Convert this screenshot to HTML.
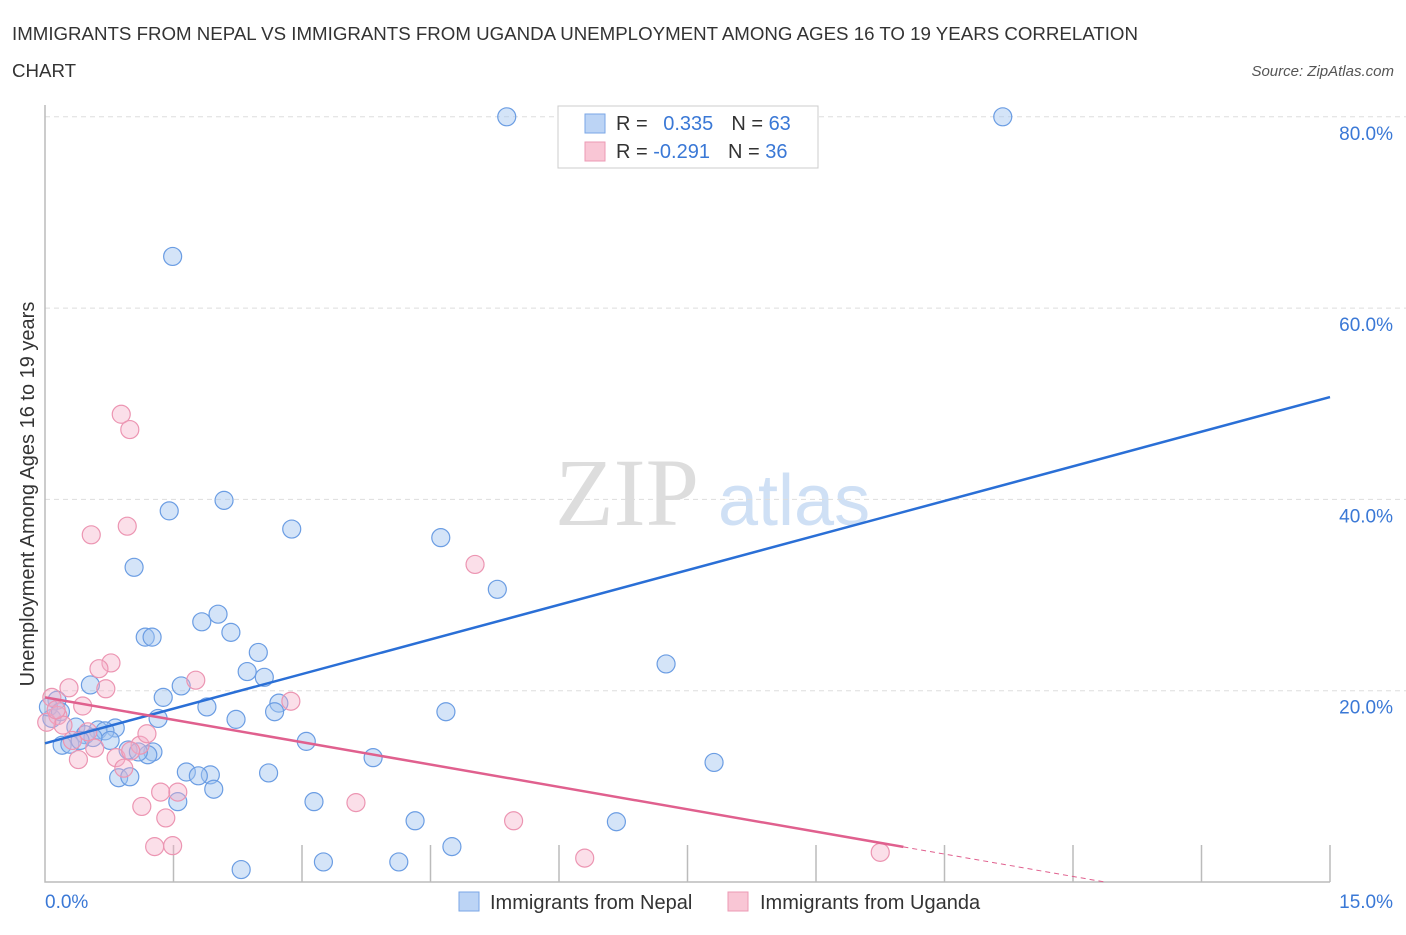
<!DOCTYPE html>
<html><head><meta charset="utf-8"><style>
body{margin:0;background:#fff;font-family:"Liberation Sans",sans-serif}
</style></head><body>
<svg width="1406" height="930" xmlns="http://www.w3.org/2000/svg" font-family="Liberation Sans, sans-serif">
<text x="12" y="40" font-size="18.7" fill="#333">IMMIGRANTS FROM NEPAL VS IMMIGRANTS FROM UGANDA UNEMPLOYMENT AMONG AGES 16 TO 19 YEARS CORRELATION</text>
<text x="12" y="77" font-size="18.7" fill="#333">CHART</text>
<text x="1394" y="76" font-size="15" fill="#555" text-anchor="end" font-style="italic">Source: ZipAtlas.com</text>
<g>
<text x="555" y="525" font-size="96" font-family="Liberation Serif, serif" fill="#ddd">ZIP</text>
<text x="718" y="525" font-size="72" fill="#cfe0f5">atlas</text>
</g>
<g id="grid"></g>
<g id="axes"></g>
<g id="marks"></g>
<g>
<rect x="558" y="106" width="260" height="62" fill="#fff" stroke="#ccc"/>
<rect x="585" y="114" width="20" height="19" fill="#bcd4f5" stroke="#7aa6e6"/>
<rect x="585" y="142" width="20" height="19" fill="#f9c6d5" stroke="#ec9ab4"/>
<text x="616" y="130" font-size="20" fill="#333">R = <tspan fill="#3a78d6" dx="10">0.335</tspan><tspan dx="18" fill="#333">N = </tspan><tspan fill="#3a78d6">63</tspan></text>
<text x="616" y="158" font-size="20" fill="#333">R = <tspan fill="#3a78d6">-0.291</tspan><tspan dx="18" fill="#333">N = </tspan><tspan fill="#3a78d6">36</tspan></text>
</g>
<g>
<rect x="459" y="892" width="20" height="19" fill="#bcd4f5" stroke="#7aa6e6"/>
<text x="490" y="909" font-size="20" fill="#333">Immigrants from Nepal</text>
<rect x="728" y="892" width="20" height="19" fill="#f9c6d5" stroke="#ec9ab4"/>
<text x="760" y="909" font-size="20" fill="#333">Immigrants from Uganda</text>
</g>
</svg>
<script>
const nepalX=[5.39,11.18,1.49,1.45,2.09,2.88,1.04,4.62,5.28,2.02,1.83,2.17,1.17,1.25,2.49,2.36,2.56,7.25,0.53,1.59,1.38,1.89,2.73,2.68,1.32,2.23,4.68,0.14,0.08,0.36,0.62,0.82,0.70,0.47,0.20,0.29,0.76,0.97,1.26,1.20,1.09,3.05,3.83,7.81,1.65,1.93,1.79,1.97,2.61,0.86,0.99,1.55,3.14,4.32,6.67,4.75,3.25,4.13,2.29,0.04,0.18,0.56,0.41];
const nepalY=[80.0,80.0,65.4,38.8,39.9,36.9,32.9,36.0,30.6,28.0,27.2,26.1,25.6,25.6,24.0,22.0,21.4,22.8,20.6,20.5,19.3,18.3,18.7,17.8,17.1,17.0,17.8,19.0,17.1,16.2,15.9,16.1,15.8,15.4,14.3,14.4,14.8,13.8,13.6,13.3,13.6,14.7,13.0,12.5,11.5,11.2,11.1,9.7,11.4,10.9,11.0,8.4,8.4,6.4,6.3,3.7,2.1,2.1,1.3,18.3,17.8,15.1,14.8];
const ugandaX=[0.89,0.99,0.54,0.96,5.02,0.77,0.63,0.28,0.71,1.76,2.87,0.44,0.08,0.15,0.21,0.02,0.50,0.32,1.11,1.19,0.39,0.58,0.83,0.92,1.00,1.55,1.35,1.13,1.41,3.63,5.47,1.28,1.49,6.30,9.75,0.13];
const ugandaY=[48.9,47.3,36.3,37.2,33.2,22.9,22.3,20.3,20.2,21.1,18.9,18.4,19.3,17.4,16.4,16.7,15.7,14.8,14.3,15.5,12.8,14.0,13.0,11.9,13.7,9.4,9.4,7.9,6.7,8.3,6.4,3.7,3.8,2.5,3.1,18.0];
const nepalTrend=[14.5,50.7]; // y at x=0 and x=15
const ugandaTrend=[19.3,-1.56,10.02,12.4]; // intercept, slope, solid end, dashed end
const yTicks=[20,40,60,80];
const xTickVals=[1.5,3,4.5,6,7.5,9,10.5,12,13.5,15];
const NS='http://www.w3.org/2000/svg';
const sx=v=>45+v/15*1285, sy=v=>882-v/20*191.3;
function mk(t,a,p){const e=document.createElementNS(NS,t);for(const k in a)e.setAttribute(k,a[k]);p.appendChild(e);return e;}
const grid=document.getElementById('grid'),axes=document.getElementById('axes'),marks=document.getElementById('marks');
yTicks.forEach(v=>{
 const l=mk('line',{x1:45,x2:1406,y1:sy(v),y2:sy(v),stroke:'#ddd','stroke-dasharray':'5,4'},grid);
 
 
 const t=mk('text',{x:1393,y:sy(v)+23,'font-size':19,fill:'#3a78d6','text-anchor':'end'},axes);
 t.textContent=v.toFixed(1)+'%';
 
 
});
const ax=mk('path',{d:'M45,105V882H1330',stroke:'#bbb',fill:'none','stroke-width':1.5},axes);


xTickVals.forEach(v=>{
 const l=mk('line',{x1:sx(v),x2:sx(v),y1:845,y2:882,stroke:'#bbb','stroke-width':1.5},axes);
 
 
});
[[0,'0.0%','start',45],[15,'15.0%','end',1393]].forEach(d=>{
 const t=mk('text',{x:d[3],y:908,'font-size':19,fill:'#3a78d6','text-anchor':d[2]},axes);
 t.textContent=d[1];
 
 
});
const yt=mk('text',{x:0,y:0,'font-size':20,fill:'#333','text-anchor':'middle',transform:'translate(34,494) rotate(-90)'},axes);
yt.textContent='Unemployment Among Ages 16 to 19 years';


nepalX.forEach((x,i)=>{
 const c=mk('circle',{cx:sx(x),cy:sy(nepalY[i]),r:9,fill:'rgba(160,196,240,0.45)',stroke:'#6b9de3','stroke-width':1.2},marks);
 
 
});
ugandaX.forEach((x,i)=>{
 const c=mk('circle',{cx:sx(x),cy:sy(ugandaY[i]),r:9,fill:'rgba(246,176,200,0.4)',stroke:'#ec95b2','stroke-width':1.2},marks);
 
 
});
const bt=mk('line',{x1:sx(0),y1:sy(nepalTrend[0]),x2:sx(15),y2:sy(nepalTrend[1]),stroke:'#2a6fd6','stroke-width':2.5},marks);


const uy=x=>ugandaTrend[0]+ugandaTrend[1]*x;
const pt=mk('line',{x1:sx(0),y1:sy(uy(0)),x2:sx(ugandaTrend[2]),y2:sy(uy(ugandaTrend[2])),stroke:'#e0608e','stroke-width':2.5},marks);


const pd=mk('line',{x1:sx(ugandaTrend[2]),y1:sy(uy(ugandaTrend[2])),x2:sx(ugandaTrend[3]),y2:sy(uy(ugandaTrend[3])),stroke:'#e0608e','stroke-width':1,'stroke-dasharray':'5,4'},marks);


</script>
</body></html>
